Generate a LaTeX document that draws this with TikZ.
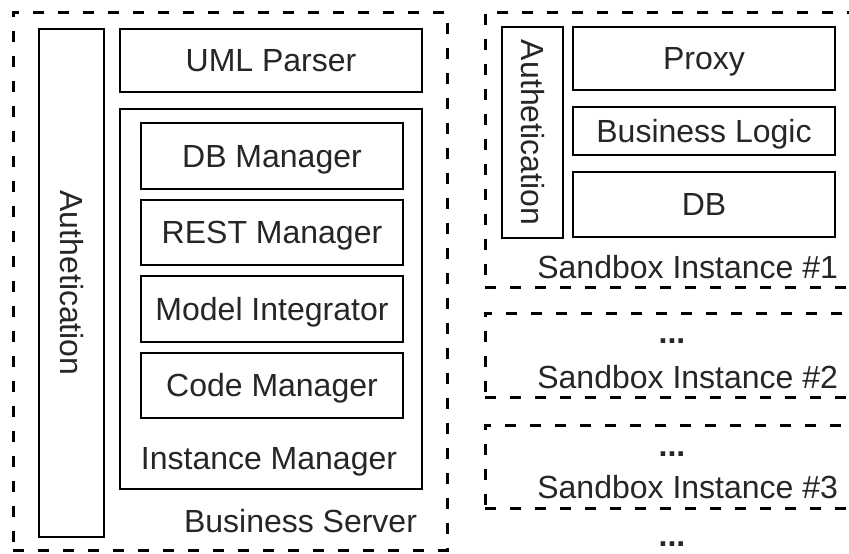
\documentclass[tikz,border=0pt]{standalone}
\usepackage{fontspec}
\setmainfont{Liberation Sans}
\begin{document}
\begin{tikzpicture}[x=1pt,y=-1pt,
  every node/.style={inner sep=0pt, outer sep=0pt, text=black!85, font=\fontsize{32}{38}\selectfont, text height=29pt, text depth=7pt},
  solidbox/.style={draw=black, line width=2.6pt, anchor=north west},
  dbox/.style={draw=black, line width=3pt, dash pattern=on 11pt off 14pt, anchor=north west},
  dots/.style={anchor=base, font=\fontsize{32}{38}\selectfont\bfseries, text height=4pt, text depth=0pt}
]
\clip (0,0) rectangle (849,554);
\fill[white] (0,0) rectangle (849,554);
% Business server
\node[dbox, minimum width=434pt, minimum height=538pt] (bs) at (13,12) {};
\node[solidbox, minimum width=65pt, minimum height=508pt] (auth1) at (39,29) {};
\node[rotate=-90] (auth1t) at (auth1.center) {Authetication};
\node[solidbox, minimum width=302pt, minimum height=63pt] (uml) at (120,29) {};
\node (umlt) at (uml.center) {UML Parser};
\node[solidbox, minimum width=302pt, minimum height=380pt] (im) at (120,109) {};
\node[solidbox, minimum width=262pt, minimum height=66pt] (dbm) at (141,123) {};
\node (dbmt) at (dbm.center) {DB Manager};
\node[solidbox, minimum width=262pt, minimum height=65pt] (rest) at (141,200) {};
\node (restt) at (rest.center) {REST Manager};
\node[solidbox, minimum width=262pt, minimum height=66pt] (mi) at (141,276) {};
\node (mit) at (mi.center) {Model Integrator};
\node[solidbox, minimum width=262pt, minimum height=65pt] (cm) at (141,353) {};
\node (cmt) at (cm.center) {Code Manager};
\node (imt) at (269,458) {Instance Manager};
\node[anchor=east] (bst) at (417,521) {Business Server};
% Sandbox 1
\node[dbox, minimum width=374pt, minimum height=275pt] (sb1) at (485,12) {};
\node[solidbox, minimum width=61pt, minimum height=211pt] (auth2) at (502,27) {};
\node[rotate=-90] (auth2t) at (auth2.center) {Authetication};
\node[solidbox, minimum width=262pt, minimum height=63pt] (proxy) at (573,27) {};
\node (proxyt) at (proxy.center) {Proxy};
\node[solidbox, minimum width=262pt, minimum height=48pt] (bl) at (573,107) {};
\node (blt) at (bl.center) {Business Logic};
\node[solidbox, minimum width=262pt, minimum height=65pt] (db) at (573,172) {};
\node (dbt) at (db.center) {DB};
\node[anchor=east] (sb1t) at (838,267) {Sandbox Instance \#1};
% Sandbox 2
\node[dbox, minimum width=374pt, minimum height=84pt] (sb2) at (485,313) {};
\node[dots] (sb2d) at (672,343) {...};
\node[anchor=east] (sb2t) at (838,377) {Sandbox Instance \#2};
% Sandbox 3
\node[dbox, minimum width=374pt, minimum height=83pt] (sb3) at (485,425) {};
\node[dots] (sb3d) at (672,456) {...};
\node[anchor=east] (sb3t) at (838,487) {Sandbox Instance \#3};
\node[dots] (more) at (672,546) {...};
\end{tikzpicture}
\end{document}
